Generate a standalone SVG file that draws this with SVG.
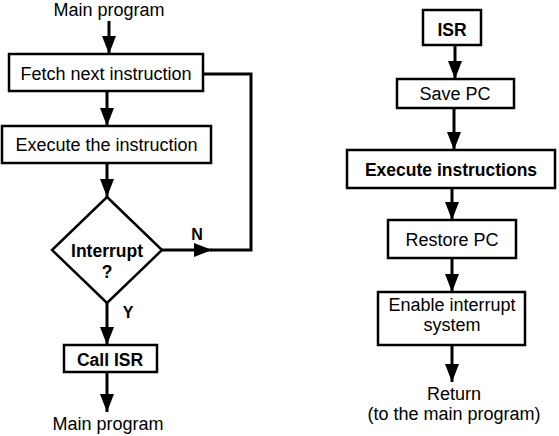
<svg xmlns="http://www.w3.org/2000/svg" width="559" height="436" viewBox="0 0 559 436">
<style>
  .box { fill: #ffffff; stroke: #000000; stroke-width: 2.5; }
  .ln { fill: none; stroke: #000000; stroke-width: 3; }
  .t { font-family: "Liberation Sans", Arial, sans-serif; font-size: 18px; fill: #000000; text-anchor: middle; }
  .b { font-weight: bold; font-size: 17.5px; }
  .lbl { font-family: "Liberation Sans", Arial, sans-serif; font-size: 16px; font-weight: bold; fill: #000000; text-anchor: middle; }
</style>
<defs>
  <marker id="arr" markerUnits="userSpaceOnUse" markerWidth="18" markerHeight="14" refX="18" refY="7" orient="auto">
    <path d="M0,0 L18,7 L0,14 z" fill="#000000"/>
  </marker>
</defs>
<rect width="559" height="436" fill="#ffffff"/>

<g id="connectors">
  <line class="ln" x1="109" y1="21" x2="109" y2="54" marker-end="url(#arr)"/>
  <line class="ln" x1="107" y1="91" x2="107" y2="126" marker-end="url(#arr)"/>
  <line class="ln" x1="107" y1="163" x2="107" y2="197" marker-end="url(#arr)"/>
  <line class="ln" x1="162" y1="250" x2="212" y2="250" marker-end="url(#arr)"/>
  <polyline class="ln" points="211,250 251,250 251,74 203,74"/>
  <line class="ln" x1="107" y1="303" x2="107" y2="345" marker-end="url(#arr)"/>
  <line class="ln" x1="107" y1="372" x2="107" y2="412" marker-end="url(#arr)"/>
  <line class="ln" x1="455" y1="45" x2="455" y2="79" marker-end="url(#arr)"/>
  <line class="ln" x1="454" y1="108" x2="454" y2="150" marker-end="url(#arr)"/>
  <line class="ln" x1="452" y1="188" x2="452" y2="220" marker-end="url(#arr)"/>
  <line class="ln" x1="452" y1="258" x2="452" y2="292" marker-end="url(#arr)"/>
  <line class="ln" x1="452" y1="345" x2="452" y2="382" marker-end="url(#arr)"/>
  <text class="lbl" x="197" y="240">N</text>
  <text class="lbl" x="128" y="318">Y</text>
</g>

<g id="start">
  <text class="t" x="109" y="16">Main program</text>
</g>
<g id="fetch">
  <rect class="box" x="9" y="54" width="194" height="37"/>
  <text class="t" x="106" y="80">Fetch next instruction</text>
</g>
<g id="execute">
  <rect class="box" x="2" y="126" width="209" height="37"/>
  <text class="t" x="106.5" y="151">Execute the instruction</text>
</g>
<g id="interrupt">
  <polygon class="box" points="107,197 162,250 107,303 52,250"/>
  <text class="t b" x="107" y="257">Interrupt</text>
  <text class="t b" x="107" y="278">?</text>
</g>
<g id="callisr">
  <rect class="box" x="64" y="345" width="93" height="27"/>
  <text class="t b" x="110" y="366">Call ISR</text>
</g>
<g id="end">
  <text class="t" x="108" y="430">Main program</text>
</g>

<g id="isr">
  <rect class="box" x="423" y="10" width="58" height="35"/>
  <text class="t b" x="452" y="36">ISR</text>
</g>
<g id="savepc">
  <rect class="box" x="397" y="79" width="117" height="29"/>
  <text class="t" x="455" y="100">Save PC</text>
</g>
<g id="execinstr">
  <rect class="box" x="347" y="150" width="208" height="38"/>
  <text class="t b" x="451" y="176">Execute instructions</text>
</g>
<g id="restorepc">
  <rect class="box" x="388" y="220" width="128" height="38"/>
  <text class="t" x="452" y="246">Restore PC</text>
</g>
<g id="enable">
  <rect class="box" x="378" y="292" width="147" height="53"/>
  <text class="t" x="452" y="311">Enable interrupt</text>
  <text class="t" x="452" y="331">system</text>
</g>
<g id="return">
  <text class="t" x="454" y="400">Return</text>
  <text class="t" x="454" y="420">(to the main program)</text>
</g>
</svg>
